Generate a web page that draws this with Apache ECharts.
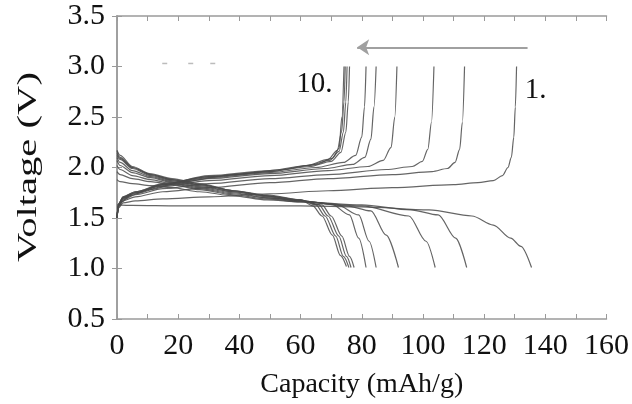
<!DOCTYPE html>
<html>
<head>
<meta charset="utf-8">
<script src="https://cdn.jsdelivr.net/npm/echarts@6/dist/echarts.min.js"></script>
<style>html,body{margin:0;padding:0;background:#fff;}#c{width:632px;height:404px;}</style>
</head>
<body>
<div id="c"></div>
<script>
// Charge curves (capacity mAh/g, voltage V), cycle 1..10
var charge1 = [[0,1.5],[0.5,1.6],[2,1.65],[6,1.67],[15,1.69],[30,1.71],[50,1.74],[69,1.77],[90,1.8],[110,1.83],[118,1.85],[123,1.87],[126,1.92],[127.8,2.0],[128.9,2.1],[129.7,2.3],[130.2,2.6],[130.6,3.0]];
var charge2 = [[0,1.5],[0.5,1.61],[2,1.67],[6,1.71],[15,1.76],[30,1.8],[50,1.85],[69,1.89],[90,1.93],[103,1.96],[108,1.99],[110.5,2.05],[112,2.18],[112.9,2.45],[113.6,3.0]];
var charge3 = [[0,1.5],[0.5,1.62],[2,1.68],[6,1.73],[15,1.79],[30,1.84],[50,1.89],[69,1.93],[88,1.98],[96.5,2.01],[99.8,2.06],[101.6,2.18],[102.8,2.45],[103.6,3.0]];
var charge4 = [[0,1.5],[0.5,1.63],[2,1.69],[6,1.74],[15,1.81],[30,1.87],[50,1.92],[69,1.97],[82,2.01],[87,2.07],[89.6,2.2],[90.8,2.5],[91.5,3.0]];
var charge5 = [[0,1.5],[0.5,1.63],[2,1.7],[6,1.75],[15,1.82],[30,1.89],[50,1.94],[68,1.99],[77,2.03],[81,2.1],[83,2.28],[84,2.6],[84.7,3.0]];
var charge6 = [[0,1.5],[0.5,1.64],[2,1.7],[6,1.75],[15,1.83],[30,1.9],[50,1.95],[65,2.0],[74,2.05],[78,2.12],[80,2.3],[80.9,2.6],[81.4,3.0]];
var charge7 = [[0,1.5],[0.5,1.64],[2,1.71],[6,1.76],[15,1.84],[30,1.91],[50,1.96],[63,2.01],[70,2.06],[73.2,2.15],[74.8,2.35],[75.6,2.65],[76,3.0]];
var charge8 = [[0,1.5],[0.5,1.64],[2,1.71],[6,1.76],[15,1.83],[30,1.91],[50,1.96],[62.5,2.02],[69.5,2.07],[72.6,2.16],[74,2.35],[74.8,2.65],[75.2,3.0]];
var charge9 = [[0,1.5],[0.5,1.63],[2,1.7],[6,1.75],[15,1.83],[30,1.92],[50,1.97],[62,2.02],[69,2.08],[72,2.17],[73.4,2.35],[74.2,2.65],[74.6,3.0]];
var charge10 = [[0,1.5],[0.5,1.63],[1.6,1.66],[4,1.72],[10.7,1.78],[21.5,1.86],[38,1.93],[54,1.98],[65,2.03],[70.4,2.09],[72.6,2.19],[73.5,2.5],[74.2,3.0]];

// Discharge curves, cycle 1..10
var discharge1 = [[0,1.63],[5,1.625],[20,1.62],[40,1.62],[60,1.62],[80,1.61],[102,1.58],[116,1.52],[123,1.43],[128.7,1.3],[132,1.22],[135.5,1.01]];
var discharge2 = [[0,1.88],[1,1.86],[5,1.84],[11,1.82],[18,1.8],[27,1.76],[38,1.72],[49,1.68],[60,1.66],[80,1.63],[96,1.58],[105,1.53],[110.7,1.3],[114.3,1.01]];
var discharge3 = [[0,1.96],[1,1.93],[5,1.89],[11,1.86],[18,1.83],[27,1.78],[38,1.73],[49,1.69],[60,1.66],[80,1.62],[95.4,1.52],[101,1.27],[104,1.01]];
var discharge4 = [[0,2.02],[1,1.98],[5,1.92],[11,1.88],[18,1.84],[27,1.79],[38,1.74],[49,1.7],[60,1.67],[75,1.62],[83,1.57],[88,1.33],[92,1.01]];
var discharge5 = [[0,2.07],[1,2.02],[5,1.95],[11,1.9],[18,1.85],[27,1.8],[38,1.75],[49,1.7],[60,1.67],[72,1.63],[79,1.53],[82.4,1.27],[84.7,1.01]];
var discharge6 = [[0,2.1],[1,2.05],[5,1.97],[11,1.91],[18,1.86],[27,1.81],[38,1.76],[49,1.71],[60,1.67],[70,1.64],[76,1.53],[79,1.3],[81.4,1.01]];
var discharge7 = [[0,2.12],[1,2.08],[5,1.99],[11,1.92],[18,1.87],[27,1.82],[38,1.76],[49,1.72],[60,1.67],[67,1.63],[70,1.52],[73.5,1.32],[76,1.12],[77.5,1.01]];
var discharge8 = [[0,2.14],[1,2.09],[5,2.0],[11,1.93],[18,1.88],[27,1.83],[38,1.77],[49,1.72],[60,1.68],[66,1.63],[69,1.52],[72.5,1.32],[75,1.12],[76.5,1.01]];
var discharge9 = [[0,2.16],[1,2.1],[5,2.0],[11,1.93],[18,1.88],[27,1.83],[38,1.77],[49,1.72],[60,1.68],[65,1.63],[68,1.52],[71.5,1.32],[74,1.12],[75.8,1.01]];
var discharge10 = [[0,2.17],[1,2.12],[5,2.01],[10.7,1.94],[18,1.89],[27,1.84],[38,1.77],[49,1.73],[60,1.68],[64,1.62],[67,1.52],[70.4,1.33],[73,1.13],[75,1.02]];

var xTicks = [0,20,40,60,80,100,120,140,160];
var yTicks = [0.5,1.0,1.5,2.0,2.5,3.0,3.5];
var cycleLabels = [{name:'10.', value:[64.5,2.82]},{name:'1.', value:[136.8,2.76]}];
var arrowFrom = [134.2,3.19];
var arrowTo = [78.5,3.19];
var dashMarks = [[15.6,3.03],[24.1,3.03],[31.3,3.03]];

var curves = [charge1,charge2,charge3,charge4,charge5,charge6,charge7,charge8,charge9,charge10,
              discharge1,discharge2,discharge3,discharge4,discharge5,discharge6,discharge7,discharge8,discharge9,discharge10];

var FONT = '"Liberation Serif","Times New Roman",serif';
var frame = '#9a9a9a';
var chart = echarts.init(document.getElementById('c'));

var series = curves.map(function(d){
  return {type:'line', data:d, xAxisIndex:0, yAxisIndex:0, showSymbol:false, symbol:'none',
    smooth:0.3, smoothMonotone:'x', lineStyle:{color:'#4a4a4a', width:1.2, opacity:0.85}, silent:true, z:3};
});
series.push({
  type:'scatter', data:cycleLabels, symbolSize:0, silent:true, z:5, itemStyle:{opacity:1},
  label:{show:true, position:'inside', formatter:function(p){return p.name;}, fontFamily:FONT, fontSize:29, color:'#111', opacity:1},
  markLine:{silent:true, symbol:['none','arrow'], symbolSize:12,
    lineStyle:{color:'#a0a0a0', width:2, type:'solid', opacity:1}, label:{show:false},
    data:[[{coord:arrowFrom},{coord:arrowTo}]]}
});
series.push({type:'scatter', data:dashMarks, symbol:'rect', symbolSize:[5,1.5], itemStyle:{color:'#bcbcbc', opacity:1}, silent:true});

chart.setOption({
  animation:false,
  backgroundColor:'#fff',
  grid:{left:117, right:24, top:16, bottom:82},
  xAxis:[{
    type:'value', min:xTicks[0], max:xTicks[xTicks.length-1], interval:10,
    axisLine:{show:true, lineStyle:{color:frame, width:1.5}},
    axisTick:{inside:true, length:5, lineStyle:{color:frame}},
    axisLabel:{margin:12, fontFamily:FONT, fontSize:30, color:'#111',
      formatter:function(v){return xTicks.indexOf(v)>=0 ? String(v) : '';}},
    splitLine:{show:false},
    name:'Capacity (mAh/g)', nameLocation:'middle', nameGap:52,
    nameTextStyle:{fontFamily:FONT, fontSize:28, color:'#111'}
  },{
    type:'value', position:'top', min:xTicks[0], max:xTicks[xTicks.length-1], interval:10,
    axisLine:{show:true, lineStyle:{color:frame, width:1.5}},
    axisTick:{inside:true, length:5, lineStyle:{color:frame}},
    axisLabel:{show:false}, splitLine:{show:false}
  }],
  yAxis:[{
    type:'value', min:yTicks[0], max:yTicks[yTicks.length-1], interval:0.5,
    axisLine:{show:true, lineStyle:{color:frame, width:1.5}},
    axisTick:{inside:true, length:5, lineStyle:{color:frame}},
    axisLabel:{margin:12, fontFamily:FONT, fontSize:30, color:'#111',
      formatter:function(v){return v.toFixed(1);}},
    splitLine:{show:false}
  },{
    type:'value', position:'right', min:yTicks[0], max:yTicks[yTicks.length-1], interval:0.5,
    axisLine:{show:true, lineStyle:{color:frame, width:1.5}},
    axisTick:{inside:true, length:5, lineStyle:{color:frame}},
    axisLabel:{show:false}, splitLine:{show:false}
  }],
  graphic:[{
    type:'text', x:29, y:167, rotation:Math.PI/2, scaleX:1.45, scaleY:1,
    style:{text:'Voltage (V)', fontFamily:FONT, fontSize:28, fill:'#111', textAlign:'center', textVerticalAlign:'middle'}
  }],
  series:series
});
</script>
</body>
</html>
